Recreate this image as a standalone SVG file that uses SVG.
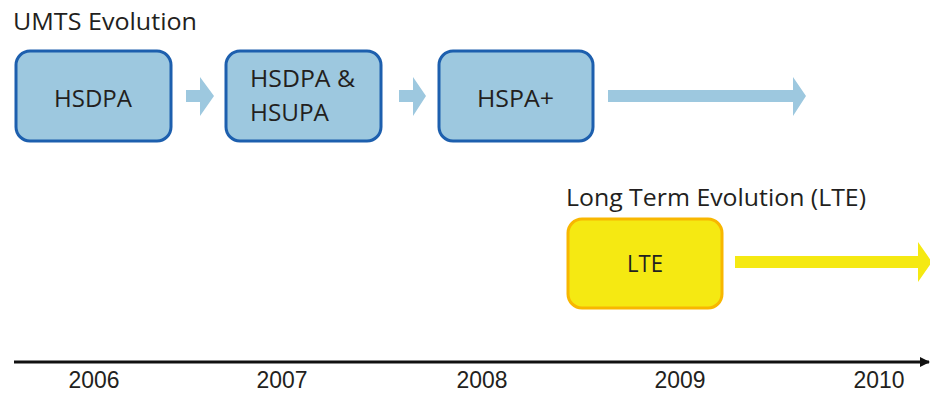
<svg xmlns="http://www.w3.org/2000/svg" width="930" height="394" viewBox="0 0 930 394">
<style>
.t{font-family:"Open Sans","DejaVu Sans",sans-serif;font-size:24px;fill:#231f20}
.c{text-anchor:middle}
.box{fill:#9dc8df;stroke:#1d5fae;stroke-width:3}
.lte{fill:#f5e912;stroke:#f8b700;stroke-width:3}
.ba{fill:#9dc8df}
.ya{fill:#f5e912}
.yr{font-family:"Liberation Sans",sans-serif;font-size:24px;fill:#231f20;text-anchor:middle}
</style>
<defs>
<marker id="ah" markerWidth="10" markerHeight="10" refX="9" refY="5" orient="auto" markerUnits="userSpaceOnUse">
<path d="M0,0 L10,5 L0,10 Z" fill="#111"/>
</marker>
</defs>
<rect width="930" height="394" fill="#fff"/>
<text class="t" x="13" y="30" textLength="184" lengthAdjust="spacingAndGlyphs">UMTS Evolution</text>
<text class="t" x="566" y="206" textLength="300" lengthAdjust="spacingAndGlyphs">Long Term Evolution (LTE)</text>
<g id="hsdpa"><rect class="box" x="16" y="51" width="155" height="90" rx="14"/><text class="t" x="54" y="107" textLength="78" lengthAdjust="spacingAndGlyphs">HSDPA</text></g>
<g id="hsdpa-hsupa"><rect class="box" x="226" y="51" width="155" height="90" rx="14"/><text class="t" x="250" y="87" textLength="105" lengthAdjust="spacingAndGlyphs">HSDPA &amp;</text><text class="t" x="250" y="121" textLength="79" lengthAdjust="spacingAndGlyphs">HSUPA</text></g>
<g id="hspa-plus"><rect class="box" x="439" y="51" width="154" height="90" rx="14"/><text class="t" x="477" y="107" textLength="77" lengthAdjust="spacingAndGlyphs">HSPA+</text></g>
<g id="lte"><rect class="lte" x="568" y="219" width="154" height="89" rx="14"/><text class="t" x="627" y="272" textLength="36" lengthAdjust="spacingAndGlyphs">LTE</text></g>
<g id="connectors">
<path class="ba" d="M186,90 H200 V77 L214,96 L200,116 V102 H186 Z"/>
<path class="ba" d="M399,90 H413 V77 L426,96 L413,116 V102 H399 Z"/>
<path class="ba" d="M608,90 H793 V77 L806,96 L793,116 V102 H608 Z"/>
<path class="ya" d="M735,256 H918 V242 L932,262 L918,282 V268 H735 Z"/>
<line x1="14" y1="362" x2="929" y2="362" stroke="#111" stroke-width="3" marker-end="url(#ah)"/>
</g>
<g id="years">
<text class="yr" x="94" y="388" textLength="51" lengthAdjust="spacingAndGlyphs">2006</text>
<text class="yr" x="282" y="388" textLength="51" lengthAdjust="spacingAndGlyphs">2007</text>
<text class="yr" x="482" y="388" textLength="51" lengthAdjust="spacingAndGlyphs">2008</text>
<text class="yr" x="680" y="388" textLength="51" lengthAdjust="spacingAndGlyphs">2009</text>
<text class="yr" x="879" y="388" textLength="51" lengthAdjust="spacingAndGlyphs">2010</text>
</g>
</svg>
